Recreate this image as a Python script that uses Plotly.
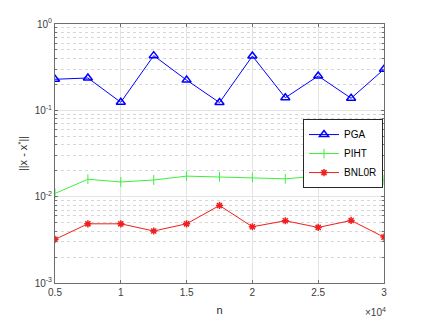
import plotly.graph_objects as go

n_vals = [5000, 7500, 10000, 12500, 15000, 17500, 20000, 22500, 25000, 27500, 30000]
pga = [0.229, 0.237, 0.124, 0.43, 0.224, 0.123, 0.426, 0.14, 0.25, 0.138, 0.299]
piht = [0.0109, 0.0159, 0.0148, 0.0156, 0.0173, 0.0170, 0.0167, 0.0161, 0.0173, 0.0170, 0.0156]
bnl0r = [0.0032, 0.00485, 0.00485, 0.0040, 0.00485, 0.0079, 0.00448, 0.00526, 0.0044, 0.0053, 0.0034]

x_tickvals = [5000, 10000, 15000, 20000, 25000, 30000]
x_ticktext = ["0.5", "1", "1.5", "2", "2.5", "3"]
y_tickvals = [1e-3, 1e-2, 1e-1, 1e0]
y_ticktext = ["10<sup>-3</sup>", "10<sup>-2</sup>", "10<sup>-1</sup>", "10<sup>0</sup>"]
y_minor = [m * 10.0 ** k for k in (-3, -2, -1) for m in range(2, 10)]

fig = go.Figure()
fig.add_trace(go.Scatter(x=n_vals, y=pga, name="PGA", mode="lines+markers",
                         line=dict(color="rgb(0,0,255)", width=1),
                         marker=dict(symbol="triangle-up-open", size=8, color="rgb(0,0,255)",
                                     line=dict(width=1.5, color="rgb(0,0,255)"))))
fig.add_trace(go.Scatter(x=n_vals, y=piht, name="PIHT", mode="lines+markers",
                         line=dict(color="rgb(60,240,60)", width=1),
                         marker=dict(symbol="line-ns-open", size=7, color="rgb(60,240,60)",
                                     line=dict(width=1, color="rgb(60,240,60)"))))
fig.add_trace(go.Scatter(x=n_vals, y=bnl0r, name="BNL0R", mode="lines+markers",
                         line=dict(color="rgb(240,30,30)", width=1),
                         marker=dict(symbol="asterisk-open", size=6, color="rgb(240,30,30)",
                                     line=dict(width=1.5, color="rgb(240,30,30)"))))

font_fam = "Liberation Sans, Arial"
axis_common = dict(showline=True, linecolor="rgb(110,110,110)", linewidth=1, mirror="ticks",
                   ticks="inside", ticklen=3, tickcolor="rgb(110,110,110)",
                   gridcolor="rgb(228,228,228)", gridwidth=1, zeroline=False, automargin=False,
                   tickfont=dict(family=font_fam, size=10, color="rgb(60,60,60)"))

fig.update_xaxes(**axis_common, range=[5000, 30000], tickvals=x_tickvals, ticktext=x_ticktext,
                 title=dict(text="n", font=dict(family=font_fam, size=11, color="rgb(40,40,40)"),
                            standoff=9))
fig.update_yaxes(**axis_common, type="log", range=[-3, 0], tickvals=y_tickvals, ticktext=y_ticktext,
                 minor=dict(tickvals=y_minor, ticks="inside", ticklen=2, tickcolor="rgb(110,110,110)",
                            showgrid=True, griddash="dot", gridcolor="rgb(215,215,215)"),
                 title=dict(text="||x - x<sup>*</sup>||", font=dict(family=font_fam, size=11, color="rgb(40,40,40)"),
                            standoff=4))

fig.add_annotation(x=1, y=0, xref="paper", yref="paper", xanchor="right", yanchor="middle",
                   yshift=-29, xshift=4, showarrow=False,
                   text="×10<sup>4</sup>", font=dict(family=font_fam, size=10, color="rgb(60,60,60)"))

# page body has an 8px default margin, so the figure is sized to fill the rest of the window
fig.update_layout(width=417, height=311, margin=dict(l=47, r=41, t=16, b=36),
                  plot_bgcolor="white", paper_bgcolor="white",
                  legend=dict(x=0.997, y=0.633, xanchor="right", yanchor="top",
                              bgcolor="white", bordercolor="rgb(40,40,40)", borderwidth=1,
                              font=dict(family=font_fam, size=10, color="black"),
                              tracegroupgap=0, itemwidth=30))

fig.write_html("out.html")
